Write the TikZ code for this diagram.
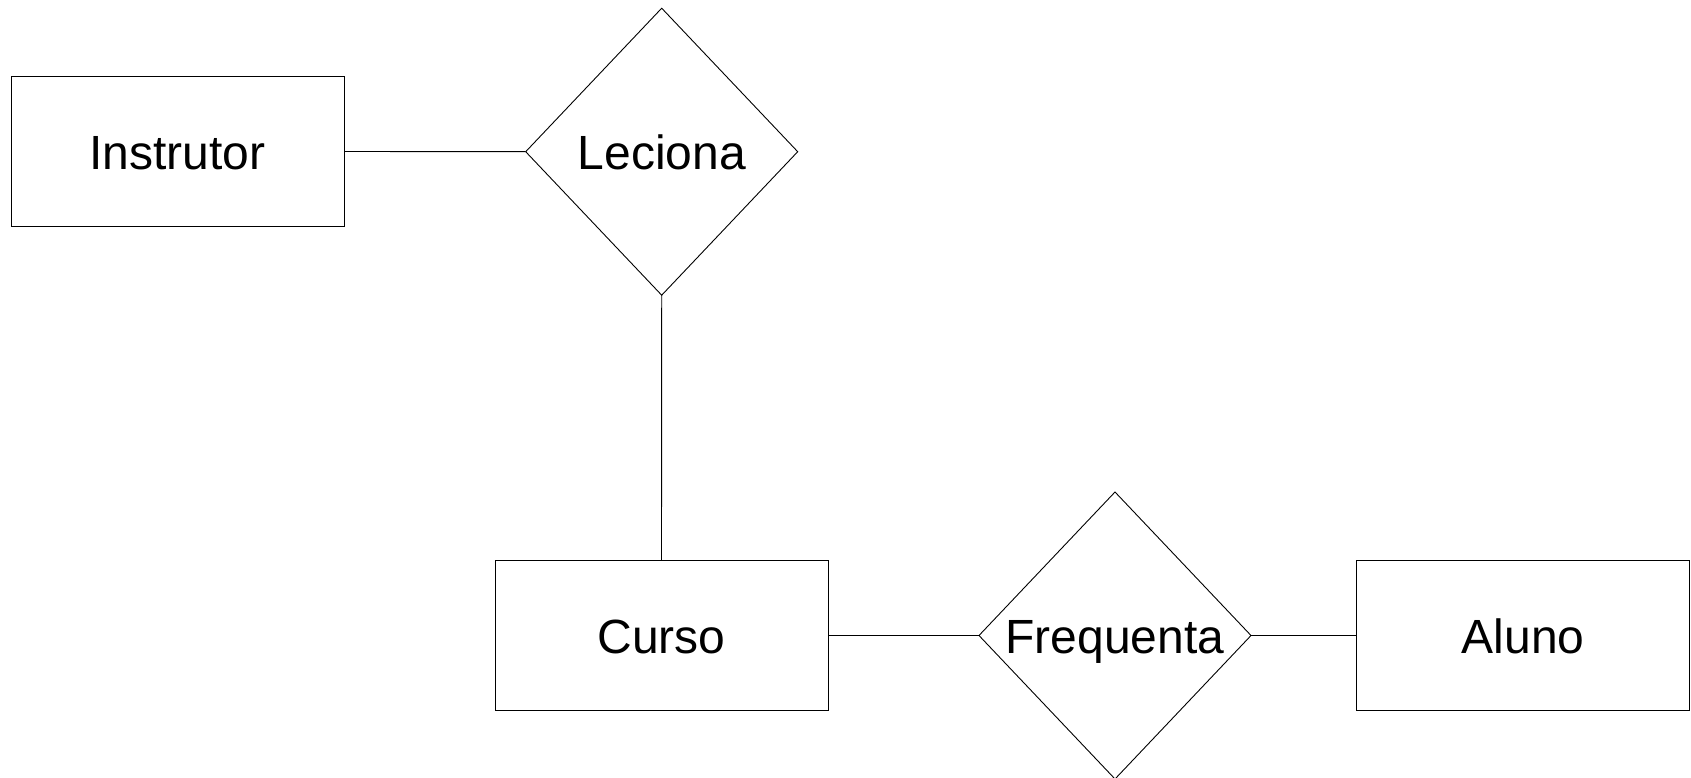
\documentclass[tikz,border=0pt]{standalone}
\usepackage{fontspec}
\setmainfont{Liberation Sans}
\usetikzlibrary{shapes.geometric}
\begin{document}
\begin{tikzpicture}[x=1pt,y=-1pt,
  label font/.style={font=\fontsize{48}{52}\selectfont, text height=36.6pt, text depth=0pt},
  entity/.style={draw=black, line width=0.9pt, rectangle, minimum width=333pt, minimum height=150pt, inner sep=0pt, outer sep=0pt, label font},
  relation/.style={draw=black, line width=0.9pt, diamond, minimum width=272pt, minimum height=287pt, inner sep=0pt, outer sep=0pt, label font},
  link/.style={draw=black, line width=0.9pt}]
\useasboundingbox (0,0) rectangle (1691,778);
\node[entity] (instrutor) at (177.5,151.5) {Instrutor};
\node[relation] (leciona) at (661.7,151.7) {Leciona};
\node[entity] (curso) at (661.5,635.5) {Curso};
\node[relation] (frequenta) at (1115,635.5) {Frequenta};
\node[entity] (aluno) at (1523.3,635.5) {Aluno};
\draw[link] (instrutor.east) -- (leciona.west);
\draw[link] (leciona.south) -- (curso.north);
\draw[link] (curso.east) -- (frequenta.west);
\draw[link] (frequenta.east) -- (aluno.west);
\end{tikzpicture}
\end{document}
